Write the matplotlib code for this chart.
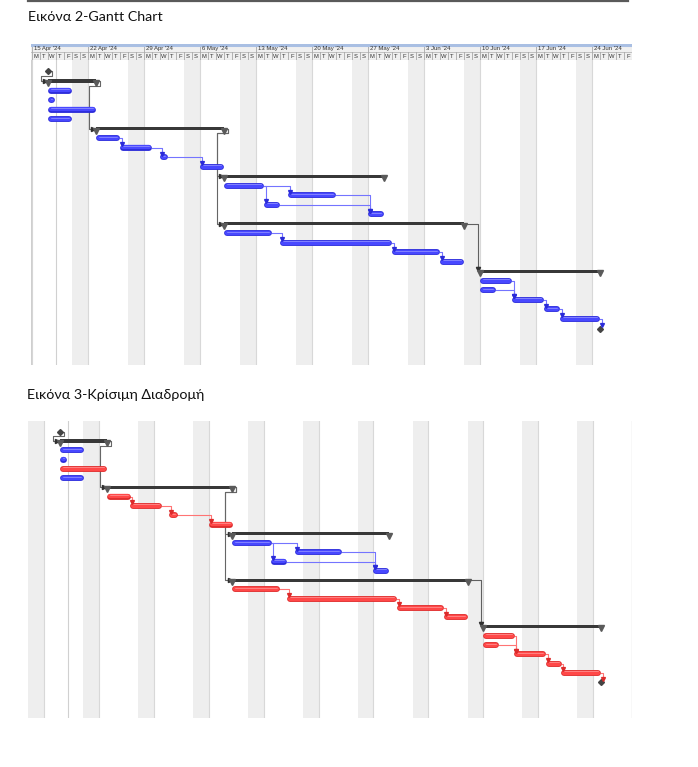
import numpy as np
import matplotlib
matplotlib.use('Agg')
import matplotlib.pyplot as plt
from matplotlib.lines import Line2D

W, H = 698, 767

# days counted from Monday 15 Apr 2024
week_labels = ["15 Apr '24", "22 Apr '24", "29 Apr '24", "6 May '24", "13 May '24", "20 May '24",
               "27 May '24", "3 Jun '24", "10 Jun '24", "17 Jun '24", "24 Jun '24"]
day_letters = ["M", "T", "W", "T", "F", "S", "S"]

row_kind = ["milestone", "summary", "task", "task", "task", "task",
            "summary", "task", "task", "task", "task",
            "summary", "task", "task", "task", "task",
            "summary", "task", "task", "task", "task",
            "summary", "task", "task", "task", "task", "task", "milestone"]
task_start = [2, 2, 2, 2, 2, 2, 8, 8, 11, 16, 21, 24, 24, 32, 29, 42,
              24, 24, 31, 45, 51, 56, 56, 56, 60, 64, 66, 71]
task_end = [2, 8, 5, 2.9, 8, 5, 24, 11, 15, 17, 24, 44, 29, 38, 31, 44,
            54, 30, 45, 51, 54, 71, 60, 58, 64, 66, 71, 71]
critical = [0, 0, 0, 0, 1, 0, 0, 1, 1, 1, 1, 0, 0, 0, 0, 0,
            0, 1, 1, 1, 1, 0, 1, 1, 1, 1, 1, 1]

task_links = [(7, 8), (8, 9), (9, 10), (12, 14), (12, 13), (13, 15), (14, 15),
              (17, 18), (18, 19), (19, 20), (22, 24), (23, 24), (24, 25), (25, 26), (26, 27)]
summary_links = [(0, 1), (1, 6), (6, 11), (6, 16), (16, 21)]
status_day = 3

# fill, edge, highlight, link
BLUE = ('#4848ff', '#2a2ad8', '#8c8cff', '#7474ff')
RED = ('#ff4848', '#dc2a2a', '#ff8c8c', '#ff7474')
GREY = '#444444'


def px_axes(fig, x0, y0, x1, y1):
    ax = fig.add_axes([x0 / W, 1 - y1 / H, (x1 - x0) / W, (y1 - y0) / H])
    return ax


def draw_body(ax, xlim, ylim, show_critical, px_day):
    ax.set_xlim(*xlim)
    ax.set_ylim(*ylim)
    ax.set_xticks([])
    ax.set_yticks([])
    for s in ax.spines.values():
        s.set_visible(False)
    for k in range(-1, 11):
        ax.axvspan(5 + 7 * k, 7 + 7 * k, color='#eeeeee', lw=0, zorder=0)
    for k in range(0, 11):
        ax.axvline(7 * k, color='#d8d8d8', lw=0.8, zorder=0.5)
    ax.axvline(status_day, color='#d0d0d0', lw=0.8, zorder=0.5)

    def pal(i):
        return RED if (show_critical and critical[i]) else BLUE

    # links between summaries
    for a, b in summary_links:
        xa, xb = task_end[a], task_start[b]
        if xb > xa:
            xs = [xa, xb - 0.3, xb - 0.3]
            ys = [a, a, b - 0.3]
            ax.plot(xs, ys, color='#606060', lw=0.8, zorder=2)
            ax.plot(xs[-1], ys[-1], marker='v', ms=3, color='#303030', zorder=2)
        else:
            xs = [xa, xa + 0.5, xa + 0.5, xb - 0.9, xb - 0.9, xb - 0.35]
            ys = [a, a, a + 0.5, a + 0.5, b, b]
            ax.plot(xs, ys, color='#666666', lw=0.8, zorder=2)
            ax.plot(xs[-1], ys[-1], marker='>', ms=3, color='#303030', zorder=2)

    # links between tasks
    for a, b in task_links:
        c = pal(a) if pal(a) == pal(b) else BLUE
        x = max(task_start[b], task_end[a]) + 0.22
        ax.plot([task_end[a], x, x], [a, a, b - 0.33], color=c[3], lw=0.8, zorder=2)
        ax.plot(x, b - 0.38, marker='v', ms=2.8, color=c[1], zorder=5)

    cap = 2.8 / px_day  # half of the bar thickness, in days
    for i, kind in enumerate(row_kind):
        s, e = task_start[i], task_end[i]
        if kind == 'milestone':
            ax.plot(s, i, marker='D', ms=3.0, color=GREY, zorder=4)
        elif kind == 'summary':
            ax.barh(i, e - s, left=s, height=0.34, color='#383838', lw=0, zorder=3)
            ax.plot([s, e], [i + 0.2, i + 0.2], ls='none', marker='v', ms=4.0,
                    color='#5a5a5a', zorder=4)
        else:
            fill, edge, light, _ = pal(i)
            xs = [s + cap, max(e - cap, s + cap + 0.05)]
            ax.plot(xs, [i, i], color=edge, lw=4.2, solid_capstyle='round', zorder=3)
            ax.plot(xs, [i - 0.02, i - 0.02], color=fill, lw=3.1, solid_capstyle='round', zorder=3)
            ax.plot(xs, [i - 0.16, i - 0.16], color=light, lw=0.6, solid_capstyle='round', zorder=4)


def draw_header(ax, xlim):
    ax.set_xlim(*xlim)
    ax.set_ylim(2, 0)
    ax.set_xticks([])
    ax.set_yticks([])
    for s in ax.spines.values():
        s.set_visible(False)
    ax.axhspan(0, 2, color='#f0f0f0', zorder=0)
    ax.axhline(0.08, color='#a9bfe3', lw=2.2, zorder=3)
    ax.axhline(1.0, color='#b8b8b8', lw=0.6, zorder=2)
    ax.axhline(2.0, color='#b8b8b8', lw=0.8, zorder=2)
    for k, lab in enumerate(week_labels):
        ax.plot([7 * k, 7 * k], [0, 2], color='#a8a8a8', lw=0.6, zorder=2)
        ax.text(7 * k + 0.25, 0.62, lab, fontsize=4.3, color='#333333',
                family='Liberation Sans', va='center', ha='left')
        for j, d in enumerate(day_letters):
            day = 7 * k + j
            if day >= xlim[1]:
                break
            if j > 0:
                ax.plot([day, day], [1, 2], color='#a8a8a8', lw=0.6, zorder=2)
            ax.text(day + 0.5, 1.55, d, fontsize=4.2, color='#333333',
                    family='Liberation Sans', va='center', ha='center')
    ax.plot([xlim[1], xlim[1]], [1, 2], color='#a8a8a8', lw=0.6, zorder=2)


fig = plt.figure(figsize=(W / 100, H / 100), dpi=100)
fig.patch.set_facecolor('white')

fig.add_artist(Line2D([28 / W, 628 / W], [1 - 1 / H, 1 - 1 / H], color='#5a5a5a', lw=1.6))
fig.text(28 / W, 1 - 17 / H, "Εικόνα 2-Gantt Chart", fontsize=10.3, family='Lato',
         va='center', ha='left', color='#111111')
fig.text(27 / W, 1 - 395 / H, "Εικόνα 3-Κρίσιμη Διαδρομή", fontsize=10.3, family='Lato',
         va='center', ha='left', color='#111111')

# chart 1: 8 px per day, Monday 15 Apr at x=32
x1 = ((30.5 - 32) / 8, (632 - 32) / 8)
hdr = px_axes(fig, 30.5, 44, 632, 60)
draw_header(hdr, x1)
body1 = px_axes(fig, 30.5, 60, 632, 365)
draw_body(body1, x1, ((365 - 71.5) / 9.52, (60 - 71.5) / 9.52), False, 8.0)
body1.axvline(x1[0], color='#cfcfcf', lw=1.0)

# chart 2: 7.84 px per day, Monday 15 Apr at x=44.15
x2 = ((28 - 44.15) / 7.84, (632 - 44.15) / 7.84)
body2 = px_axes(fig, 28, 421, 632, 718)
draw_body(body2, x2, ((718 - 431.7) / 9.28, (421 - 431.7) / 9.28), True, 7.84)
body2.axvline(x2[1], color='#e0e0e0', lw=1.0)

fig.savefig('out.png', dpi=100)
